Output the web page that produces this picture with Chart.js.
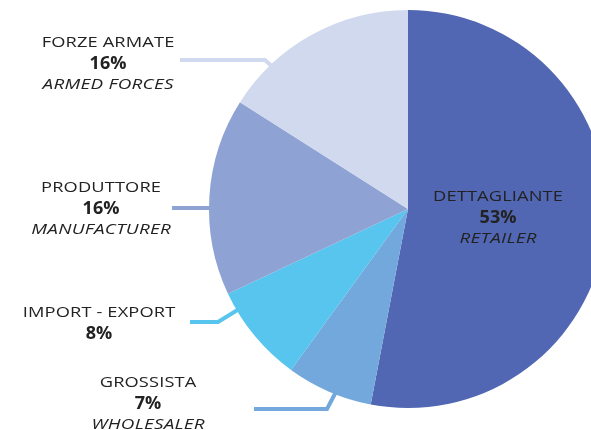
<!DOCTYPE html>
<html>
<head>
<meta charset="utf-8">
<script src="https://cdn.jsdelivr.net/npm/chart.js@4"></script>
<style>
  html, body { margin: 0; padding: 0; background: #fff; overflow: hidden; }
  #wrap { width: 591px; height: 430px; overflow: hidden; }
</style>
</head>
<body>
<div id="wrap"><canvas id="pie" width="620" height="430"></canvas></div>
<script>
// categories and values
const labelsIt = ['DETTAGLIANTE', 'GROSSISTA', 'IMPORT - EXPORT', 'PRODUTTORE', 'FORZE ARMATE'];
const labelsEn = ['RETAILER', 'WHOLESALER', '', 'MANUFACTURER', 'ARMED FORCES'];
const shares = [53, 7, 8, 16, 16];
const sliceColors = ['#5267b3', '#72a8db', '#58c5ef', '#8fa2d4', '#d0d9ee'];

// where each label block sits and its leader line
const labelLayout = [
  { x: 498, y: 197, line: null },
  { x: 148, y: 383, line: [[254, 409], [327, 409], [338, 388]] },
  { x: 99,  y: 313, line: [[190, 322], [218, 322], [244, 306]] },
  { x: 101, y: 188, line: [[172, 208], [216, 208]] },
  { x: 108, y: 43,  line: [[180, 60], [265, 60], [276, 70]] }
];

const FONT = '"Open Sans", sans-serif';

// the original face is a wide geometric sans, so stretch the text a little
function wideText(ctx, text, x, y, sx, spacing) {
  ctx.save();
  ctx.letterSpacing = spacing + 'px';
  ctx.translate(x + spacing * sx / 2, y);
  ctx.scale(sx, 1);
  ctx.fillText(text, 0, 0);
  ctx.restore();
}

const labelPlugin = {
  id: 'sliceLabels',
  beforeDatasetsDraw(chart) {
    const ctx = chart.ctx;
    ctx.save();
    ctx.lineWidth = 4;
    ctx.lineJoin = 'miter';
    labelLayout.forEach((l, i) => {
      if (!l.line) return;
      ctx.strokeStyle = sliceColors[i];
      ctx.beginPath();
      l.line.forEach((p, k) => k ? ctx.lineTo(p[0], p[1]) : ctx.moveTo(p[0], p[1]));
      ctx.stroke();
    });
    ctx.restore();
  },
  afterDatasetsDraw(chart) {
    const ctx = chart.ctx;
    ctx.save();
    ctx.textAlign = 'center';
    ctx.textBaseline = 'middle';
    ctx.fillStyle = '#222222';
    labelLayout.forEach((l, i) => {
      ctx.font = '14.5px ' + FONT;
      wideText(ctx, labelsIt[i], l.x, l.y, 1.26, 0.1);
      ctx.font = 'bold 17px ' + FONT;
      wideText(ctx, shares[i] + '%', l.x, l.y + 21, 1.06, 0);
      if (labelsEn[i]) {
        ctx.font = 'italic 14.5px ' + FONT;
        wideText(ctx, labelsEn[i], l.x, l.y + 41.5, 1.3, 0.2);
      }
    });
    ctx.restore();
  }
};

new Chart('pie', {
  type: 'pie',
  data: {
    labels: labelsIt,
    datasets: [{
      data: shares,
      backgroundColor: sliceColors,
      borderWidth: 0
    }]
  },
  options: {
    responsive: false,
    animation: false,
    layout: { padding: { left: 209, right: 13, top: 10, bottom: 22 } },
    plugins: {
      legend: { display: false },
      tooltip: { enabled: false }
    }
  },
  plugins: [labelPlugin]
});
</script>
</body>
</html>
